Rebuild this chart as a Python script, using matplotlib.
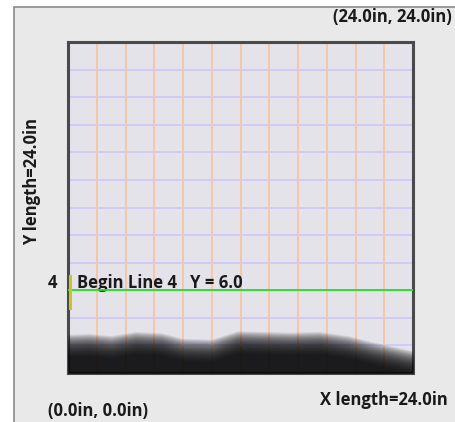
import matplotlib.pyplot as plt
from matplotlib.patches import Rectangle
import numpy as np

# sheet size (inches) and grid
x_len = 24.0
y_len = 24.0
grid_x = [2, 4, 6, 8, 10, 12, 14, 16, 18, 20, 22]
grid_y = [2, 4, 6, 8, 10, 12, 14, 16, 18, 20, 22]

# begin line
line_num = 4
line_y = 6.0
marker_y0 = 4.7
marker_y1 = 7.0

# dark band along the bottom (top edge profile)
band_x = [0, 1.5, 3.0, 4.7, 6.5, 8.0, 10.0, 11.8, 13.5, 15.5, 17.5, 19.5, 21.0, 22.5, 24.0]
band_top = [2.0, 2.05, 1.9, 2.2, 2.1, 1.7, 1.65, 2.25, 2.2, 2.15, 2.2, 1.9, 1.5, 1.15, 0.8]

fs = 12.0
fam = ['Open Sans', 'DejaVu Sans']
wt = 'bold'

fig = plt.figure(figsize=(4.55, 4.22), dpi=100)
fig.patch.set_facecolor('white')

# outer panel with a gray frame on the left/top
panel = Rectangle((14 / 455, -0.1), 1.2, 1.1 - 7 / 422,
                  transform=fig.transFigure, facecolor='#e9e9e9',
                  edgecolor='#8a8a8a', lw=1.2, zorder=-5)
fig.add_artist(panel)

ax = fig.add_axes([68 / 455, 49 / 422, 345 / 455, 331 / 422])
ax.set_zorder(2)
ax.set_facecolor('#e5e3ea')
ax.set_xlim(0, x_len)
ax.set_ylim(0, y_len)

for gy in grid_y:
    ax.axhline(gy, color='#d0cbf7', lw=1.4, zorder=1)
for gx in grid_x:
    ax.axvline(gx, color='#f7c6aa', lw=1.4, zorder=2)

# blurry dark band: stacked translucent layers
n = 20
for i in range(n):
    off = -0.8 + 1.6 * i / (n - 1)
    ax.fill_between(band_x, 0, np.array(band_top) - off, color='#0a0a0a',
                    alpha=0.11, lw=0, zorder=3)

ax.axhline(line_y, color='#22e022', lw=1.3, zorder=4)
ax.plot([0.12, 0.12], [marker_y0, marker_y1], color='#c9c42a', lw=2.2,
        zorder=5, clip_on=False)

ax.text(-1.05, line_y + 0.55, str(line_num), fontsize=fs, family=fam,
        weight=wt, ha='center', va='center', color='#1a1a1a', clip_on=False)
ax.text(0.6, line_y + 0.55, 'Begin Line %d   Y = %.1f' % (line_num, line_y),
        fontsize=fs, family=fam, weight=wt, ha='left', va='center',
        color='#1a1a1a')

for s in ax.spines.values():
    s.set_color('#4a4a4a')
    s.set_linewidth(2.2)
ax.set_xticks([])
ax.set_yticks([])

fig.text(452 / 455, 1 - 17 / 422, '(%.1fin, %.1fin)' % (x_len, y_len), fontsize=fs,
         family=fam, weight=wt, ha='right', va='center', color='#1a1a1a')
fig.text(448 / 455, 1 - 400 / 422, 'X length=%.1fin' % x_len, fontsize=fs,
         family=fam, weight=wt, ha='right', va='center', color='#1a1a1a')
fig.text(48 / 455, 1 - 411 / 422, '(0.0in, 0.0in)', fontsize=fs,
         family=fam, weight=wt, ha='left', va='center', color='#1a1a1a')
fig.text(32 / 455, 1 - 181 / 422, 'Y length=%.1fin' % y_len, fontsize=fs,
         family=fam, weight=wt, ha='center', va='center', rotation=90,
         color='#1a1a1a')

fig.savefig('out.png', dpi=100)
